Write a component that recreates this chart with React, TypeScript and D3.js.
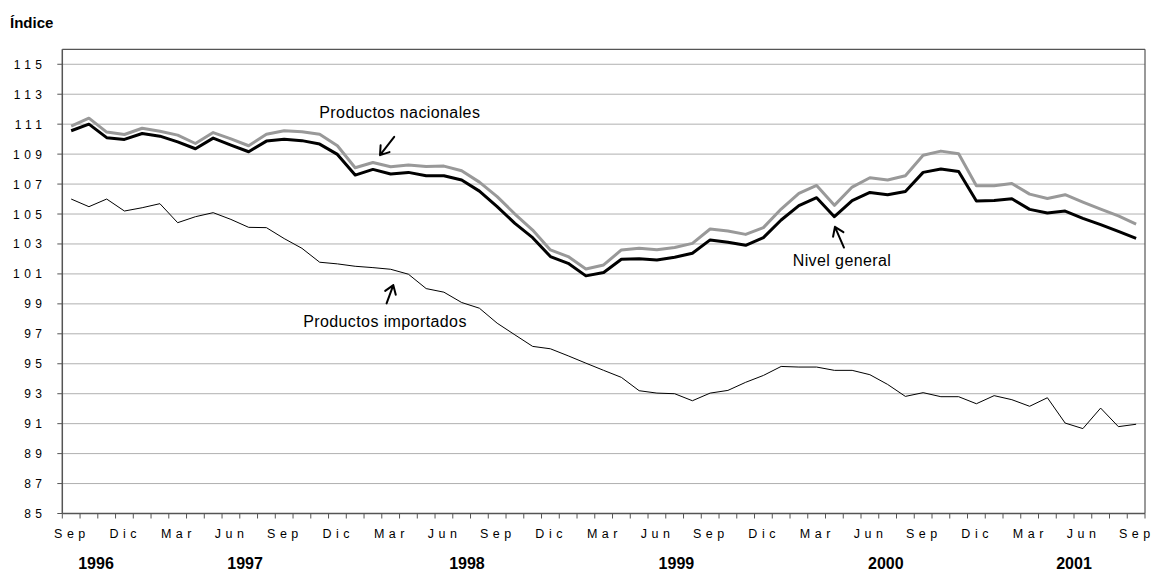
import React from "react";
import * as d3 from "d3";

const monthNames = ["Sep","Oct","Nov","Dic","Ene","Feb","Mar","Abr","May","Jun","Jul","Ago"];
const nMonths = 61;

const nivelGeneral = [
  110.56, 111.0, 110.1, 109.98, 110.38, 110.2, 109.82, 109.36, 110.07, 109.6,
  109.16, 109.87, 110.0, 109.9, 109.67, 108.98, 107.6, 107.98, 107.67, 107.78,
  107.55, 107.56, 107.27, 106.53, 105.49, 104.38, 103.42, 102.16, 101.71, 100.87,
  101.09, 101.98, 102.02, 101.93, 102.11, 102.38, 103.27, 103.11, 102.91, 103.42,
  104.6, 105.56, 106.09, 104.82, 105.89, 106.44, 106.29, 106.51, 107.78, 108.0,
  107.84, 105.87, 105.91, 106.02, 105.31, 105.07, 105.2, 104.71, 104.29, 103.84,
  103.38,
];

const productosNacionales = [
  110.87, 111.4, 110.47, 110.31, 110.73, 110.53, 110.27, 109.71, 110.44, 110.02,
  109.56, 110.33, 110.56, 110.49, 110.33, 109.56, 108.09, 108.44, 108.16, 108.27,
  108.18, 108.2, 107.89, 107.13, 106.16, 105.0, 103.93, 102.6, 102.16, 101.33,
  101.6, 102.6, 102.71, 102.62, 102.76, 103.04, 104.0, 103.87, 103.64, 104.09,
  105.33, 106.38, 106.91, 105.58, 106.8, 107.42, 107.27, 107.56, 108.93, 109.2,
  109.02, 106.89, 106.89, 107.04, 106.33, 106.04, 106.29, 105.8, 105.33, 104.87,
  104.33,
];

const productosImportados = [
  106.0, 105.49, 106.0, 105.2, 105.42, 105.69, 104.42, 104.82, 105.09, 104.64,
  104.11, 104.09, 103.36, 102.71, 101.78, 101.67, 101.51, 101.42, 101.31, 100.98,
  100.02, 99.78, 99.09, 98.71, 97.71, 96.93, 96.16, 96.0, 95.53, 95.04,
  94.56, 94.09, 93.2, 93.04, 93.0, 92.53, 93.04, 93.22, 93.76, 94.22,
  94.82, 94.78, 94.78, 94.56, 94.56, 94.27, 93.62, 92.82, 93.07, 92.8,
  92.8, 92.33, 92.87, 92.6, 92.16, 92.73, 91.04, 90.67, 92.04, 90.8,
  90.96,
];

const yTicks = [85, 87, 89, 91, 93, 95, 97, 99, 101, 103, 105, 107, 109, 111, 113, 115];

const yearLabels = ["1996", "1997", "1998", "1999", "2000", "2001"];
const yearLabelAt = [1.4, 9.8, 22.3, 34.1, 45.9, 56.5];

const annotationTexts = ["Productos nacionales", "Productos importados", "Nivel general"];
const annotationAnchor = [[13.98, 111.38], [13.07, 97.44], [40.65, 101.52]];
const arrowTail = [[18.2, 110.15], [17.77, 99.03], [43.54, 102.76]];
const arrowHead = [[17.4, 108.93], [18.15, 100.25], [43.03, 104.14]];

const W = 1152;
const H = 572;
const left = 62.3;
const right = 1145;
const top = 49.3;
const bottom = 513.5;
const FONT = "'Liberation Sans', Arial, sans-serif";

// letter-spaced text without trailing space: each char after the first gets a dx
function Spaced({ text, gap }: { text: string; gap: number }) {
  return (
    <>
      {text.split("").map((ch, i) => (
        <tspan key={i} dx={i === 0 ? 0 : gap}>
          {ch}
        </tspan>
      ))}
    </>
  );
}

export default function App() {
  const x = d3.scaleLinear().domain([-0.5, nMonths - 0.5]).range([left, right]);
  const y = d3.scaleLinear().domain([85, 116]).range([bottom, top]);
  const line = d3
    .line<number>()
    .x((_, i) => x(i))
    .y((d) => y(d));

  const idx = d3.range(nMonths);
  const lsX = 4.5;
  const lsY = 4.5;

  const arrowPath = (t: number[], h: number[]) => {
    const tx = x(t[0]), ty = y(t[1]), hx = x(h[0]), hy = y(h[1]);
    const ang = Math.atan2(hy - ty, hx - tx);
    const L = 10, a = 0.6;
    const w1 = [hx - L * Math.cos(ang - a), hy - L * Math.sin(ang - a)];
    const w2 = [hx - L * Math.cos(ang + a), hy - L * Math.sin(ang + a)];
    return `M${tx},${ty}L${hx},${hy}M${w1[0]},${w1[1]}L${hx},${hy}L${w2[0]},${w2[1]}`;
  };

  return (
    <svg
      width={W}
      height={H}
      style={{ position: "absolute", left: 0, top: 0, background: "#fff" }}
      fontFamily={FONT}
    >
      <rect x={0} y={0} width={W} height={H} fill="#fff" />
      <text x={10} y={28} fontSize={15} fontWeight="bold" fill="#000">Índice</text>

      {/* gridlines */}
      {yTicks.filter((t) => t > 85).map((t) => (
        <line key={"g" + t} x1={left} x2={right} y1={y(t)} y2={y(t)} stroke="#b0b0b0" strokeWidth={1} />
      ))}

      {/* plot border */}
      <line x1={left} x2={right} y1={top} y2={top} stroke="#555" strokeWidth={1.2} />
      <line x1={right} x2={right} y1={top} y2={bottom} stroke="#555" strokeWidth={1.2} />
      <line x1={left} x2={left} y1={top} y2={bottom} stroke="#555" strokeWidth={1.5} />
      <line x1={left} x2={right} y1={bottom} y2={bottom} stroke="#555" strokeWidth={1.5} />

      {/* y ticks and labels */}
      {yTicks.map((t) => (
        <g key={"y" + t}>
          <line x1={left - 5} x2={left} y1={y(t)} y2={y(t)} stroke="#555" strokeWidth={1} />
          <text x={42} y={y(t) + 4.5} textAnchor="end" fontSize={12} fill="#000">
            <Spaced text={String(t)} gap={lsY} />
          </text>
        </g>
      ))}

      {/* x ticks */}
      {d3.range(nMonths + 1).map((i) => (
        <line key={"xt" + i} x1={x(i - 0.5)} x2={x(i - 0.5)} y1={bottom} y2={bottom + 5} stroke="#555" strokeWidth={1} />
      ))}
      {idx.filter((i) => i % 3 === 0).map((i) => (
        <text key={"xl" + i} x={x(i) - 1.5} y={538} textAnchor="middle" fontSize={12.5} fill="#000">
          <Spaced text={monthNames[i % 12]} gap={lsX} />
        </text>
      ))}
      {yearLabels.map((yr, k) => (
        <text key={yr} x={x(yearLabelAt[k])} y={569} textAnchor="middle" fontSize={16} fontWeight="bold" fill="#000">
          {yr}
        </text>
      ))}

      {/* series */}
      <path d={line(productosImportados) || ""} fill="none" stroke="#000" strokeWidth={1} strokeLinejoin="round" />
      <path d={line(productosNacionales) || ""} fill="none" stroke="#999" strokeWidth={3} strokeLinejoin="round" />
      <path d={line(nivelGeneral) || ""} fill="none" stroke="#000" strokeWidth={3} strokeLinejoin="round" />

      {/* annotations */}
      {annotationTexts.map((t, k) => (
        <g key={t}>
          <text
            x={x(annotationAnchor[k][0])}
            y={y(annotationAnchor[k][1])}
            fontSize={16}
            letterSpacing={0.4}
            fill="#000"
          >
            {t}
          </text>
          <path d={arrowPath(arrowTail[k], arrowHead[k])} fill="none" stroke="#000" strokeWidth={2} strokeLinecap="round" strokeLinejoin="round" />
        </g>
      ))}
    </svg>
  );
}
